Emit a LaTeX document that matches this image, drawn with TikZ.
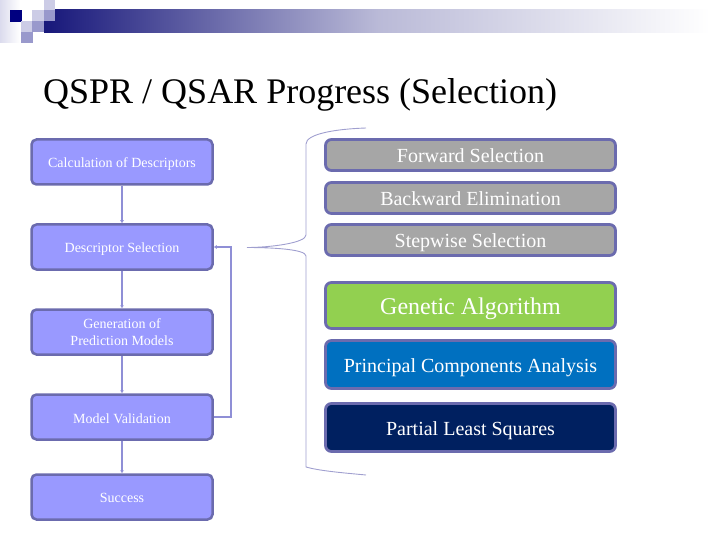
\documentclass[tikz,border=0pt]{standalone}
\usepackage{fontspec}
\setmainfont{Liberation Serif}
\usetikzlibrary{arrows.meta,calc}
\definecolor{edgeblue}{HTML}{6B6BAE}
\definecolor{stepfill}{HTML}{9999FF}
\definecolor{linkblue}{HTML}{8F8FD6}
\definecolor{bracecol}{HTML}{A09FCF}
\definecolor{methodgray}{HTML}{A6A6A6}
\definecolor{methodgreen}{HTML}{92D050}
\definecolor{methodblue}{HTML}{0070C0}
\definecolor{methodnavy}{HTML}{002060}
\definecolor{barnavy}{HTML}{17177A}
\definecolor{sqdark}{HTML}{000080}
\definecolor{sqmid}{HTML}{9999CC}
\definecolor{sqlight}{HTML}{CCCCE6}
\newcommand{\lowertext}[2]{\raisebox{-#1}[\height][\depth]{#2}}
\tikzset{
  stepbox/.style={draw=edgeblue,line width=2.5pt,rounded corners=5pt,fill=stepfill,text=white,
    minimum width=181pt,minimum height=45pt,inner sep=0pt,align=center,font=\fontsize{14}{17}\selectfont},
  methodbox/.style={draw=edgeblue,line width=2.8pt,rounded corners=6pt,text=white,
    minimum width=290pt,inner sep=0pt,align=center},
  link/.style={draw=linkblue,line width=1.5pt,-{Latex[length=3pt,width=4pt]}},
  bracket/.style={draw=bracecol,line width=0.9pt}
}
\begin{document}
\begin{tikzpicture}[x=1pt,y=-1pt]
\useasboundingbox (0,0) rectangle (720,540);
% header decoration
\shade[left color=barnavy,right color=white,middle color=barnavy!30!white] (44,10) rectangle (710,33);
\shade[left color=sqlight!70!white,right color=white] (0,0) rectangle (20,43);
\fill[white] (22,0) rectangle (44,10);
\fill[sqdark] (10,10) rectangle (22,22);
\fill[white] (22,10) rectangle (32,21);
\fill[sqlight] (44,0) rectangle (55,10);
\fill[sqlight] (32,10) rectangle (44,21);
\fill[sqmid] (44,10) rectangle (55,21);
\fill[sqlight] (21,21) rectangle (32,32);
\fill[sqmid] (32,21) rectangle (44,32);
\fill[sqmid] (21,32) rectangle (33,43);
% title
\node[anchor=base west,inner sep=0pt,font=\fontsize{36}{42}\selectfont,text=black] (title) at (43,104) {QSPR / QSAR Progress (Selection)};
% left flow
\node[stepbox] (calc) at (122,162) {\lowertext{2pt}{Calculation of Descriptors}};
\node[stepbox] (sel) at (122,247) {\lowertext{2pt}{Descriptor Selection}};
\node[stepbox] (gen) at (122,332) {\lowertext{2pt}{\begin{tabular}{@{}c@{}}Generation of\\Prediction Models\end{tabular}}};
\node[stepbox] (val) at (122,417) {\lowertext{1.5pt}{Model Validation}};
\node[stepbox] (succ) at (122,497) {\lowertext{1pt}{Success}};
\draw[link] (calc) -- (sel);
\draw[link] (sel) -- (gen);
\draw[link] (gen) -- (val);
\draw[link] (val) -- (succ);
\coordinate (fbk) at (231,417);
\draw[link] (val.east) -- (fbk) -- (fbk |- sel.east) -- (sel.east);
% bracket
\coordinate (btop) at (366,128);
\coordinate (bmid) at (247,247.5);
\coordinate (bbot) at (366,475);
\draw[bracket] (btop) .. controls (335,129) and (306,134) .. (306,144) -- (306,235)
  .. controls (306,243) and (270,247.5) .. (bmid)
  .. controls (270,247.5) and (306,249) .. (306,256) -- (306,467)
  .. controls (320,471) and (345,473) .. (bbot);
% right boxes
\node[methodbox,fill=methodgray,minimum height=31pt,font=\fontsize{20}{22}\selectfont] (fwd) at (470.5,155) {\lowertext{1pt}{Forward Selection}};
\node[methodbox,fill=methodgray,minimum height=31pt,font=\fontsize{20}{22}\selectfont] (bwd) at (470.5,198) {\lowertext{1pt}{Backward Elimination}};
\node[methodbox,fill=methodgray,minimum height=31pt,font=\fontsize{20}{22}\selectfont] (stp) at (470.5,240) {\lowertext{2.5pt}{Stepwise Selection}};
\node[methodbox,fill=methodgreen,minimum height=46pt,font=\fontsize{24}{26}\selectfont] (ga) at (470.5,305.5) {\lowertext{3pt}{Genetic Algorithm}};
\node[methodbox,fill=methodblue,minimum height=48pt,font=\fontsize{20}{22}\selectfont] (pca) at (470.5,364.5) {\lowertext{3.5pt}{Principal Components Analysis}};
\node[methodbox,fill=methodnavy,minimum height=48pt,font=\fontsize{20}{22}\selectfont] (pls) at (470.5,427.5) {\lowertext{3pt}{Partial Least Squares}};
\end{tikzpicture}
\end{document}
